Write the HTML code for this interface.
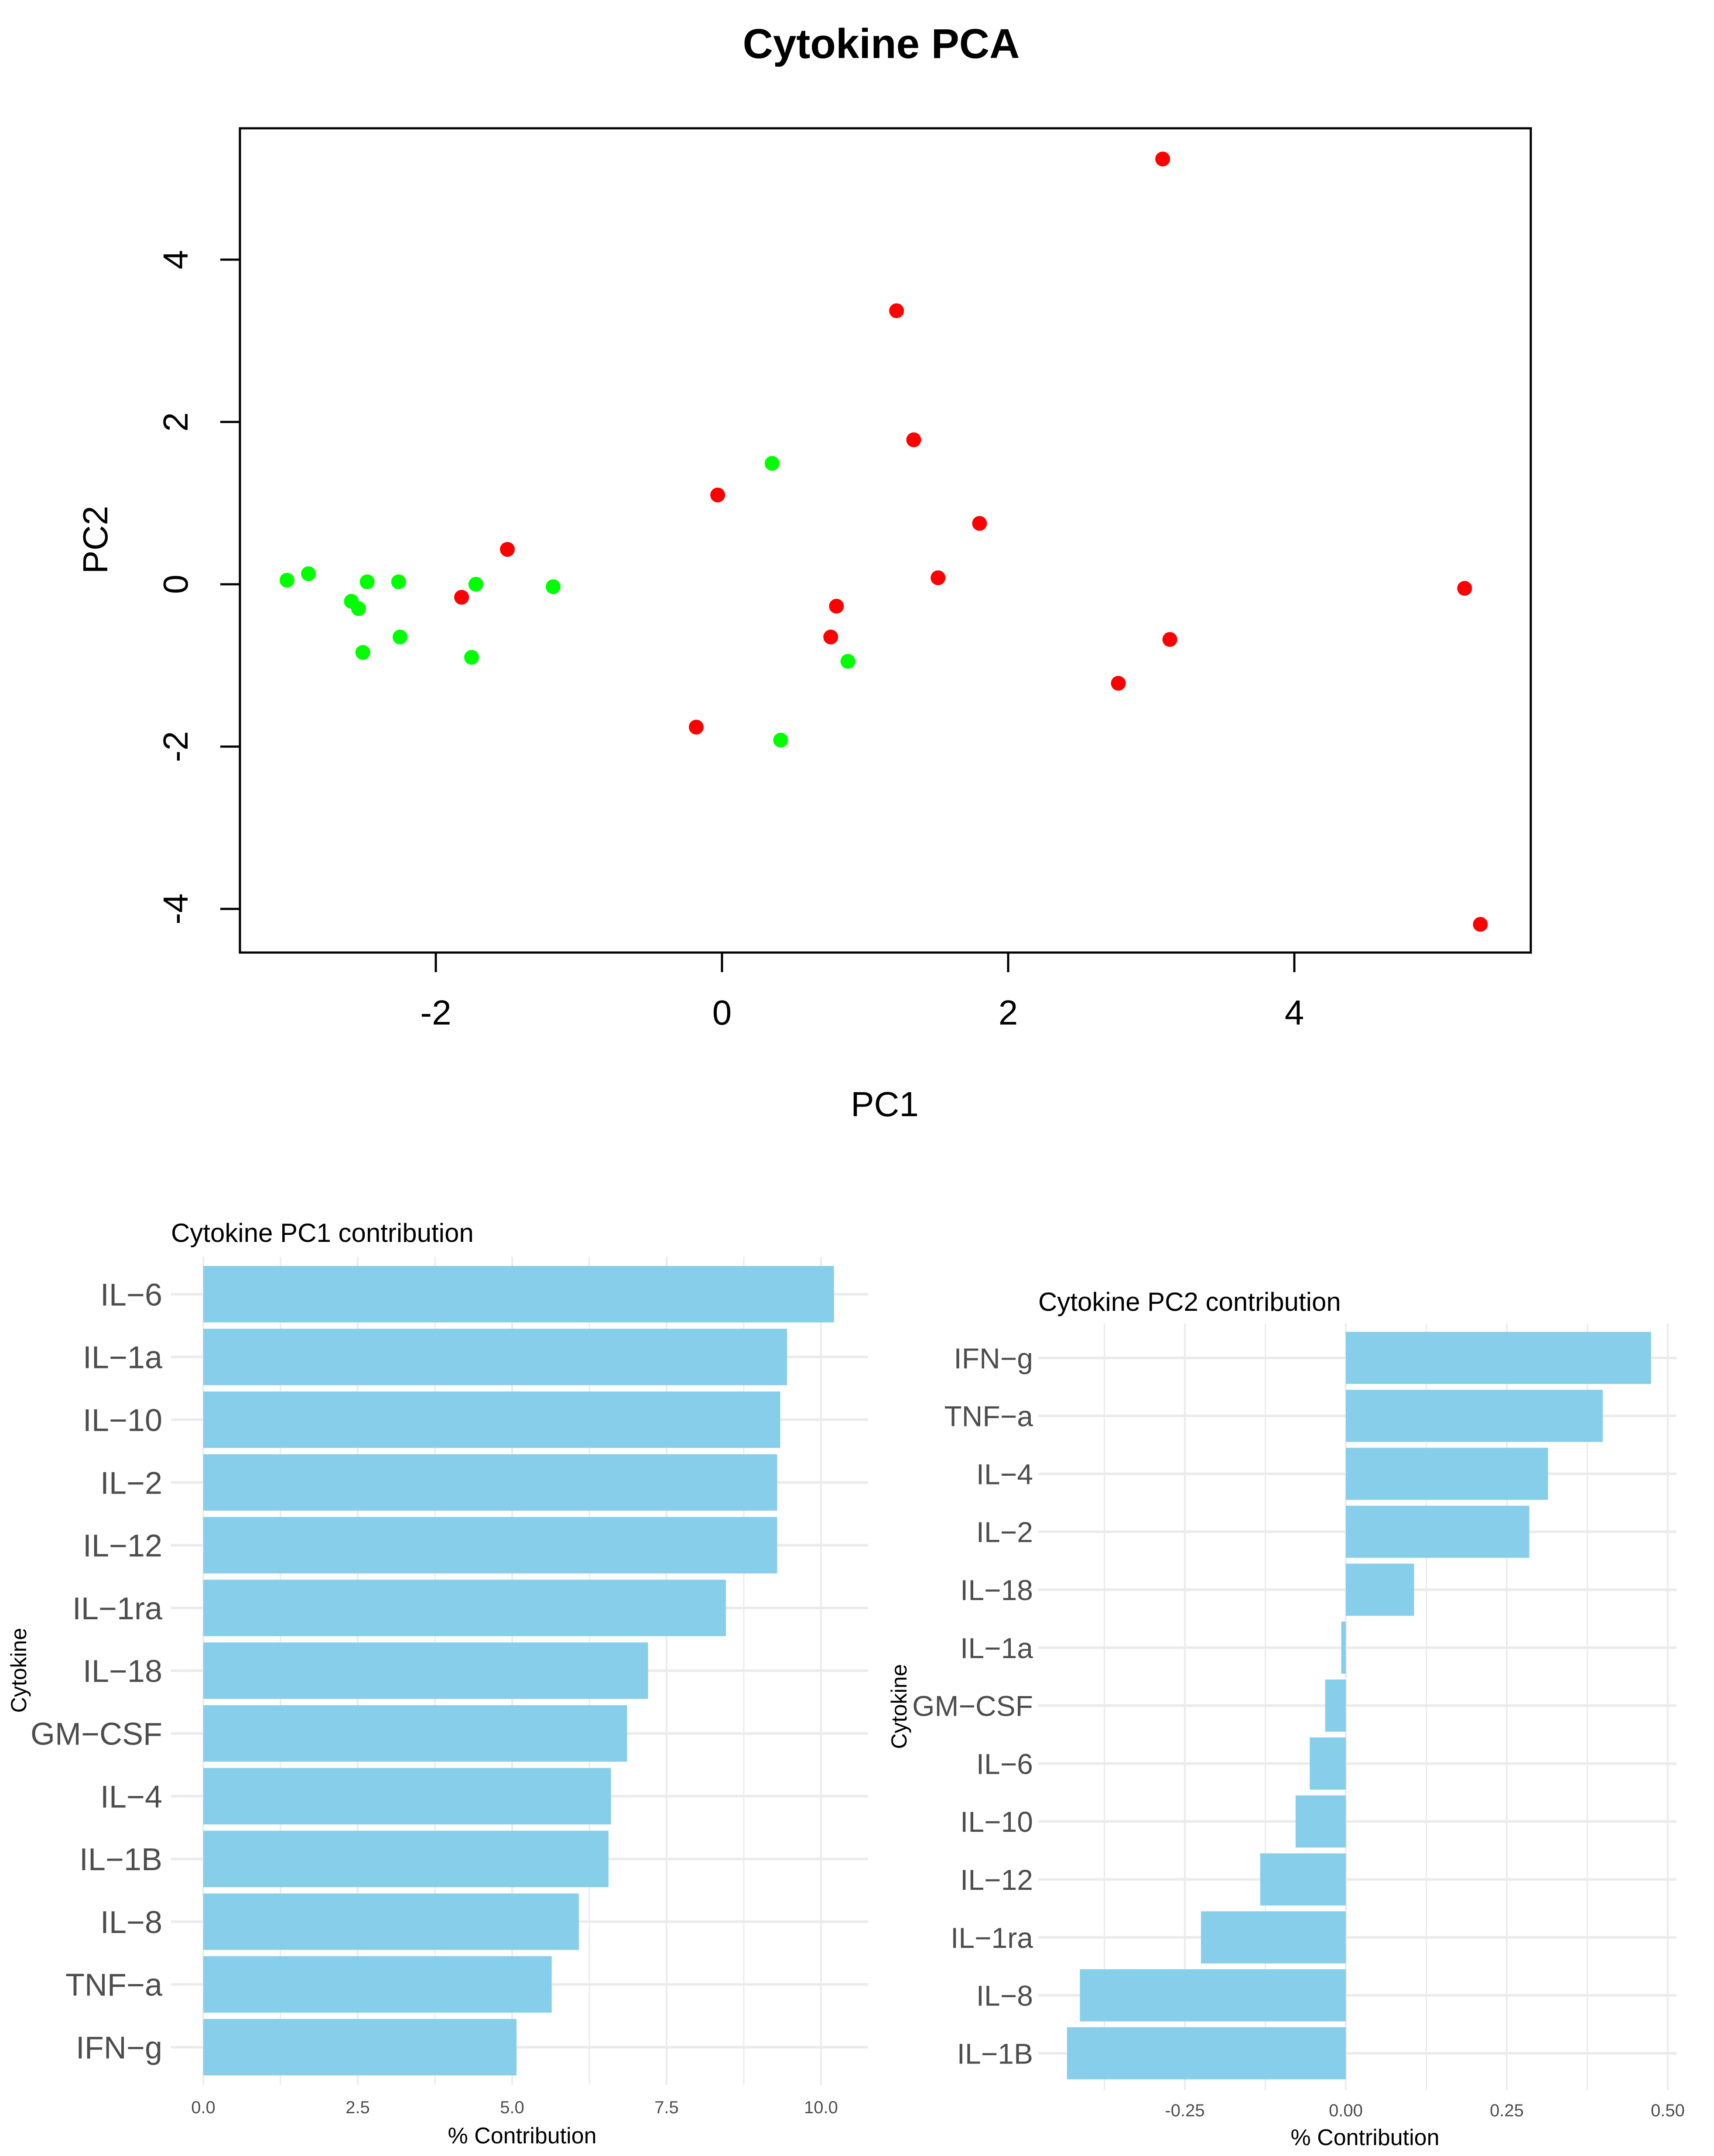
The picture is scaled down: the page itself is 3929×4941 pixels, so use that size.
<!DOCTYPE html>
<html><head><meta charset="utf-8"><style>
html,body{margin:0;padding:0;background:#fff;}
svg{display:block;font-family:"Liberation Sans",Arial,sans-serif;}
</style></head><body>
<svg id="root" width="3929" height="4941" viewBox="0 0 3929 4941" xmlns="http://www.w3.org/2000/svg">
<rect width="3929" height="4941" fill="#fff"/>
<g id="pca"></g>
<g id="pc1"></g>
<g id="pc2"></g>
</svg>
<script>
// ---- PCA data ----
const redPC1 = [3.08,1.22,1.34,-0.03,1.80,-1.50,1.51,-1.82,0.80,0.76,5.19,3.13,2.77,-0.18,5.30];
const redPC2 = [5.24,3.37,1.78,1.10,0.75,0.43,0.08,-0.16,-0.27,-0.65,-0.05,-0.68,-1.22,-1.76,-4.19];
const greenPC1 = [-3.04,-2.89,-2.48,-2.26,-1.72,-1.18,-2.59,-2.54,-2.25,-2.51,-1.75,0.35,0.88,0.41];
const greenPC2 = [0.05,0.13,0.03,0.03,0.00,-0.03,-0.21,-0.30,-0.65,-0.84,-0.90,1.49,-0.95,-1.92];
const pcaXTicks = [-2,0,2,4];
const pcaYTicks = [-4,-2,0,2,4];
// ---- PC1 contribution ----
const pc1Cats = ["IL-6","IL-1a","IL-10","IL-2","IL-12","IL-1ra","IL-18","GM-CSF","IL-4","IL-1B","IL-8","TNF-a","IFN-g"];
const pc1Vals = [10.21,9.45,9.34,9.29,9.29,8.46,7.20,6.86,6.60,6.56,6.08,5.64,5.07];
const pc1Ticks = [0,2.5,5,7.5,10];
const pc1TickLabels = ["0.0","2.5","5.0","7.5","10.0"];
// ---- PC2 contribution ----
const pc2Cats = ["IFN-g","TNF-a","IL-4","IL-2","IL-18","IL-1a","GM-CSF","IL-6","IL-10","IL-12","IL-1ra","IL-8","IL-1B"];
const pc2Vals = [0.474,0.399,0.314,0.285,0.106,-0.007,-0.032,-0.056,-0.078,-0.133,-0.225,-0.413,-0.433];
const pc2Ticks = [-0.25,0,0.25,0.5];
const pc2TickLabels = ["-0.25","0.00","0.25","0.50"];

const NS="http://www.w3.org/2000/svg";
function mk(parent,tag,attrs,text){const e=document.createElementNS(NS,tag);for(const k in attrs)e.setAttribute(k,attrs[k]);if(text!==undefined)e.textContent=text;parent.appendChild(e);return e;}

// ===== PCA scatter =====
(function(){
 const g=document.getElementById('pca');
 const sx=v=>1655+v*328;
 const sy=v=>1339-v*186;
 let t=mk(g,'text',{x:2020,y:133,'text-anchor':'middle','font-size':96,'font-weight':'bold',fill:'#000'},'Cytokine PCA');
 
 
 let b=mk(g,'rect',{x:550,y:294,width:2959,height:1889,fill:'none',stroke:'#000','stroke-width':5});
 
 
 pcaXTicks.forEach(v=>{
  let l=mk(g,'line',{x1:sx(v),x2:sx(v),y1:2183,y2:2228,stroke:'#000','stroke-width':5});
  
  
  let tx=mk(g,'text',{x:sx(v),y:2348,'text-anchor':'middle','font-size':80,fill:'#000'},String(v));
  
  
 });
 pcaYTicks.forEach(v=>{
  let l=mk(g,'line',{x1:505,x2:550,y1:sy(v),y2:sy(v),stroke:'#000','stroke-width':5});
  
  
  let tx=mk(g,'text',{x:0,y:0,'text-anchor':'middle','font-size':80,fill:'#000',transform:`translate(430,${sy(v)}) rotate(-90)`},String(v));
  
  
 });
 let xl=mk(g,'text',{x:2028,y:2558,'text-anchor':'middle','font-size':80,fill:'#000'},'PC1');
 
 
 let yl=mk(g,'text',{x:0,y:0,'text-anchor':'middle','font-size':80,fill:'#000',transform:'translate(246,1237) rotate(-90)'},'PC2');
 
 
 redPC1.forEach((v,i)=>{
  let c=mk(g,'ellipse',{cx:sx(v),cy:sy(redPC2[i]),rx:17,ry:17,fill:'#ff0000'});
  
  
 });
 greenPC1.forEach((v,i)=>{
  let c=mk(g,'ellipse',{cx:sx(v),cy:sy(greenPC2[i]),rx:17,ry:17,fill:'#00ff00'});
  
  
 });
})();

// ===== bar chart helper =====
function barChart(g,o){
 const sx=v=>o.x0+v*o.kx;
 const sy=i=>o.yc0+i*o.step;
 const bh=o.step*0.9;
 o.minor.forEach(v=>{
  let l=mk(g,'line',{x1:sx(v),x2:sx(v),y1:o.top,y2:o.bot,stroke:'#ebebeb','stroke-width':3});
  
  
 });
 o.ticks.forEach(v=>{
  let l=mk(g,'line',{x1:sx(v),x2:sx(v),y1:o.top,y2:o.bot,stroke:'#ebebeb','stroke-width':4});
  
  
 });
 o.cats.forEach((c,i)=>{
  let l=mk(g,'line',{x1:o.left,x2:o.right,y1:sy(i),y2:sy(i),stroke:'#ebebeb','stroke-width':6});
  
  
 });
 o.cats.forEach((c,i)=>{
  const v=o.vals[i];
  const x1=sx(Math.min(0,v)), x2=sx(Math.max(0,v));
  let r=mk(g,'rect',{x:x1,y:sy(i)-bh/2,width:Math.max(2,x2-x1),height:bh,fill:'#87ceeb'});
  
  
  let t=mk(g,'text',{x:o.labelX,y:sy(i)+o.labelFs*0.36,'text-anchor':'end','font-size':o.labelFs,fill:'#4d4d4d'},c.replace('-','\u2212'));
  
  
 });
 o.ticks.forEach((v,i)=>{
  let t=mk(g,'text',{x:sx(v),y:o.tickY,'text-anchor':'middle','font-size':40,fill:'#4d4d4d'},o.tickLabels[i]);
  
  
 });
 let tt=mk(g,'text',{x:o.left,y:o.titleY,'font-size':60,fill:'#000'},o.title);
 
 
 let xt=mk(g,'text',{x:o.xTitleX,y:o.xTitleY,'text-anchor':'middle','font-size':52,fill:'#000'},'% Contribution');
 
 
 let yt=mk(g,'text',{x:0,y:0,'text-anchor':'middle','font-size':50,fill:'#000',transform:`translate(${o.yTitleX},${o.yTitleY}) rotate(-90)`},'Cytokine');
 
 
}

barChart(document.getElementById('pc1'),{
 cats:pc1Cats,vals:pc1Vals,ticks:pc1Ticks,tickLabels:pc1TickLabels,
 minor:[1.25,3.75,6.25,8.75],labelFs:72,
 x0:466,kx:141.6,yc0:2966,step:143.8,top:2880,bot:4778,left:392,right:1990,
 labelX:372,tickY:4843,titleY:2846,title:'Cytokine PC1 contribution',
 xTitleX:1197,xTitleY:4912,yTitleX:60,yTitleY:3828
});
barChart(document.getElementById('pc2'),{
 cats:pc2Cats,vals:pc2Vals,ticks:pc2Ticks,tickLabels:pc2TickLabels,
 minor:[-0.375,-0.125,0.125,0.375],labelFs:66,
 x0:3085,kx:1476,yc0:3112,step:132.8,top:3033,bot:4790,left:2380,right:3843,
 labelX:2368,tickY:4850,titleY:3004,title:'Cytokine PC2 contribution',
 xTitleX:3129,xTitleY:4916,yTitleX:2078,yTitleY:3911
});
</script>
</body></html>
